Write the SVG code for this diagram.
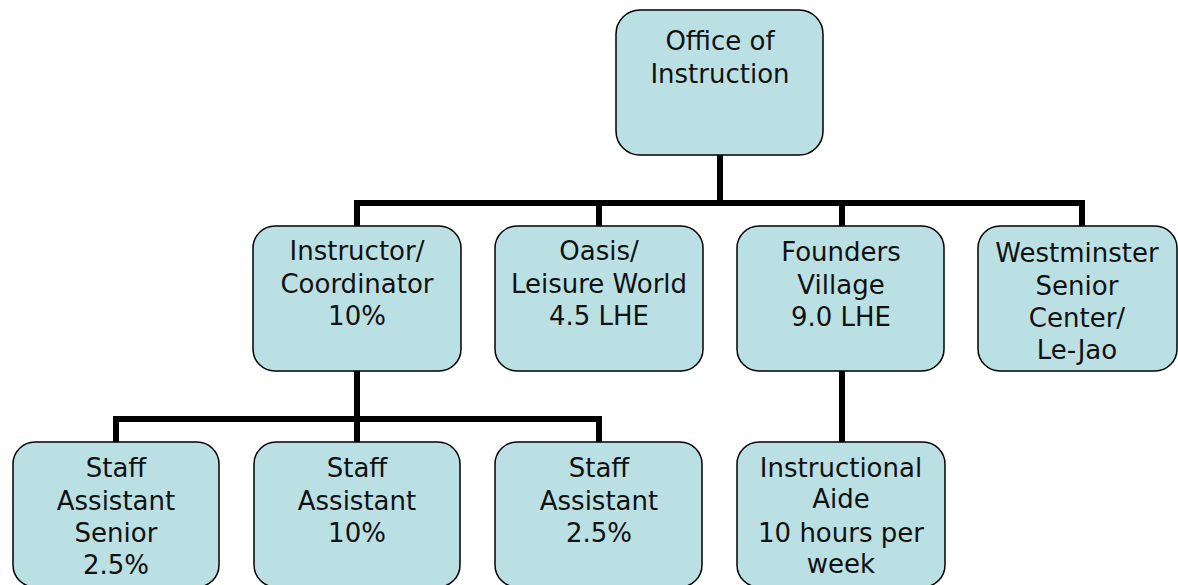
<svg xmlns="http://www.w3.org/2000/svg" width="1178" height="585" viewBox="0 0 1178 585">
  <style>
    .box { fill: #BBE0E3; stroke: #000; stroke-width: 1.5; }
    .lbl { font-family: "DejaVu Sans", Verdana, sans-serif; font-size: 26px; fill: #111; text-anchor: middle; }
    .wire { fill: none; stroke: #000; stroke-width: 6; stroke-linecap: butt; stroke-linejoin: miter; }
  </style>
  <rect width="1178" height="585" fill="#fff"/>

  <!-- connectors -->
  <g id="connectors">
    <path class="wire" d="M720 155 V203"/>
    <path class="wire" d="M357 226 V203 H1082 V226"/>
    <path class="wire" d="M599 203 V226"/>
    <path class="wire" d="M842 203 V226"/>
    <path class="wire" d="M357 371 V419"/>
    <path class="wire" d="M116 442 V419 H599 V442"/>
    <path class="wire" d="M357 419 V442"/>
    <path class="wire" d="M842 371 V442"/>
  </g>

  <g id="office">
    <rect class="box" x="616" y="10" width="207" height="145" rx="24"/>
    <text class="lbl" x="720" y="50">Office of</text>
    <text class="lbl" x="720" y="83">Instruction</text>
  </g>

  <g id="instructor">
    <rect class="box" x="253" y="226" width="208" height="145" rx="22"/>
    <text class="lbl" x="357" y="260">Instructor/</text>
    <text class="lbl" x="357" y="293">Coordinator</text>
    <text class="lbl" x="357" y="325">10%</text>
  </g>

  <g id="oasis">
    <rect class="box" x="495" y="226" width="208" height="145" rx="22"/>
    <text class="lbl" x="599" y="260">Oasis/</text>
    <text class="lbl" x="599" y="293">Leisure World</text>
    <text class="lbl" x="599" y="325">4.5 LHE</text>
  </g>

  <g id="founders">
    <rect class="box" x="737" y="226" width="207" height="145" rx="22"/>
    <text class="lbl" x="841" y="261">Founders</text>
    <text class="lbl" x="841" y="294">Village</text>
    <text class="lbl" x="841" y="326">9.0 LHE</text>
  </g>

  <g id="westminster">
    <rect class="box" x="978" y="226" width="199" height="145" rx="22"/>
    <text class="lbl" x="1077" y="262">Westminster</text>
    <text class="lbl" x="1077" y="295">Senior</text>
    <text class="lbl" x="1077" y="327">Center/</text>
    <text class="lbl" x="1077" y="359">Le-Jao</text>
  </g>

  <g id="staff-senior">
    <rect class="box" x="13" y="442" width="206" height="145" rx="22"/>
    <text class="lbl" x="116" y="477">Staff</text>
    <text class="lbl" x="116" y="510">Assistant</text>
    <text class="lbl" x="116" y="542">Senior</text>
    <text class="lbl" x="116" y="574">2.5%</text>
  </g>

  <g id="staff-10">
    <rect class="box" x="254" y="442" width="206" height="145" rx="22"/>
    <text class="lbl" x="357" y="477">Staff</text>
    <text class="lbl" x="357" y="510">Assistant</text>
    <text class="lbl" x="357" y="542">10%</text>
  </g>

  <g id="staff-25">
    <rect class="box" x="495" y="442" width="207" height="145" rx="22"/>
    <text class="lbl" x="599" y="477">Staff</text>
    <text class="lbl" x="599" y="510">Assistant</text>
    <text class="lbl" x="599" y="542">2.5%</text>
  </g>

  <g id="aide">
    <rect class="box" x="737" y="442" width="208" height="145" rx="22"/>
    <text class="lbl" x="841" y="477">Instructional</text>
    <text class="lbl" x="841" y="508">Aide</text>
    <text class="lbl" x="841" y="542">10 hours per</text>
    <text class="lbl" x="841" y="573">week</text>
  </g>
</svg>
